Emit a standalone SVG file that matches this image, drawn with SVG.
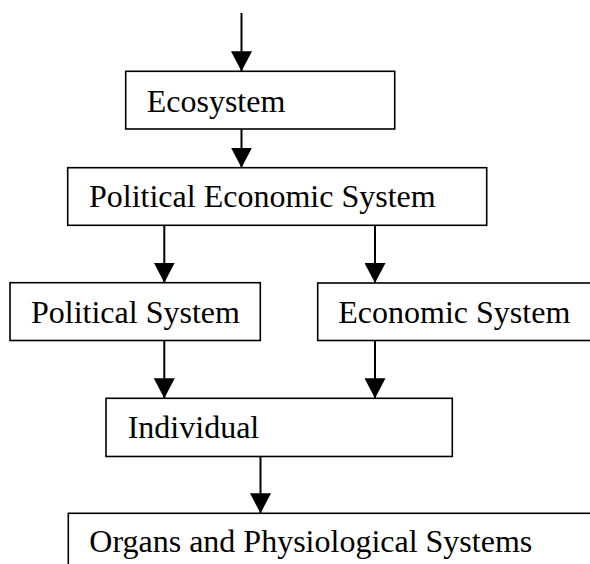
<svg xmlns="http://www.w3.org/2000/svg" width="590" height="564" viewBox="0 0 590 564">
  <style>
    .box { fill: #ffffff; stroke: #000000; stroke-width: 1.6; }
    .lbl { font-family: "Liberation Serif", "Times New Roman", serif; font-size: 32px; fill: #000000; }
    .conn { stroke: #000000; stroke-width: 2; fill: none; marker-end: url(#arrow); }
  </style>
  <defs>
    <marker id="arrow" viewBox="0 0 20 21" refX="20" refY="10.5" markerWidth="20" markerHeight="21" markerUnits="userSpaceOnUse" orient="auto">
      <path d="M0,0 L20,10.5 L0,21 Z" fill="#000000"/>
    </marker>
  </defs>
  <rect x="0" y="0" width="590" height="564" fill="#ffffff"/>

  <g id="connectors">
    <line class="conn" x1="241.5" y1="13" x2="241.5" y2="71.3"/>
    <line class="conn" x1="241.5" y1="129" x2="241.5" y2="167.7"/>
    <line class="conn" x1="164.3" y1="225.3" x2="164.3" y2="282.7"/>
    <line class="conn" x1="375" y1="225.3" x2="375" y2="283"/>
    <line class="conn" x1="164.3" y1="340.5" x2="164.3" y2="398.3"/>
    <line class="conn" x1="375" y1="340.5" x2="375" y2="398.3"/>
    <line class="conn" x1="260.5" y1="456.5" x2="260.5" y2="513.3"/>
  </g>

  <g id="ecosystem">
    <rect class="box" x="125.7" y="71.3" width="269" height="57.7"/>
    <text class="lbl" x="146.7" y="112">Ecosystem</text>
  </g>
  <g id="political-economic-system">
    <rect class="box" x="67.7" y="167.7" width="419" height="57.6"/>
    <text class="lbl" x="89" y="207.3">Political Economic System</text>
  </g>
  <g id="political-system">
    <rect class="box" x="10" y="282.7" width="250.3" height="57.8"/>
    <text class="lbl" x="31" y="323">Political System</text>
  </g>
  <g id="economic-system">
    <rect class="box" x="317.7" y="283" width="290" height="57.5"/>
    <text class="lbl" x="338.3" y="322.5">Economic System</text>
  </g>
  <g id="individual">
    <rect class="box" x="106" y="398.3" width="346.3" height="58.2"/>
    <text class="lbl" x="127.7" y="438.3">Individual</text>
  </g>
  <g id="organs">
    <rect class="box" x="68.3" y="513.3" width="540" height="80"/>
    <text class="lbl" x="89.3" y="552">Organs and Physiological Systems</text>
  </g>
</svg>
